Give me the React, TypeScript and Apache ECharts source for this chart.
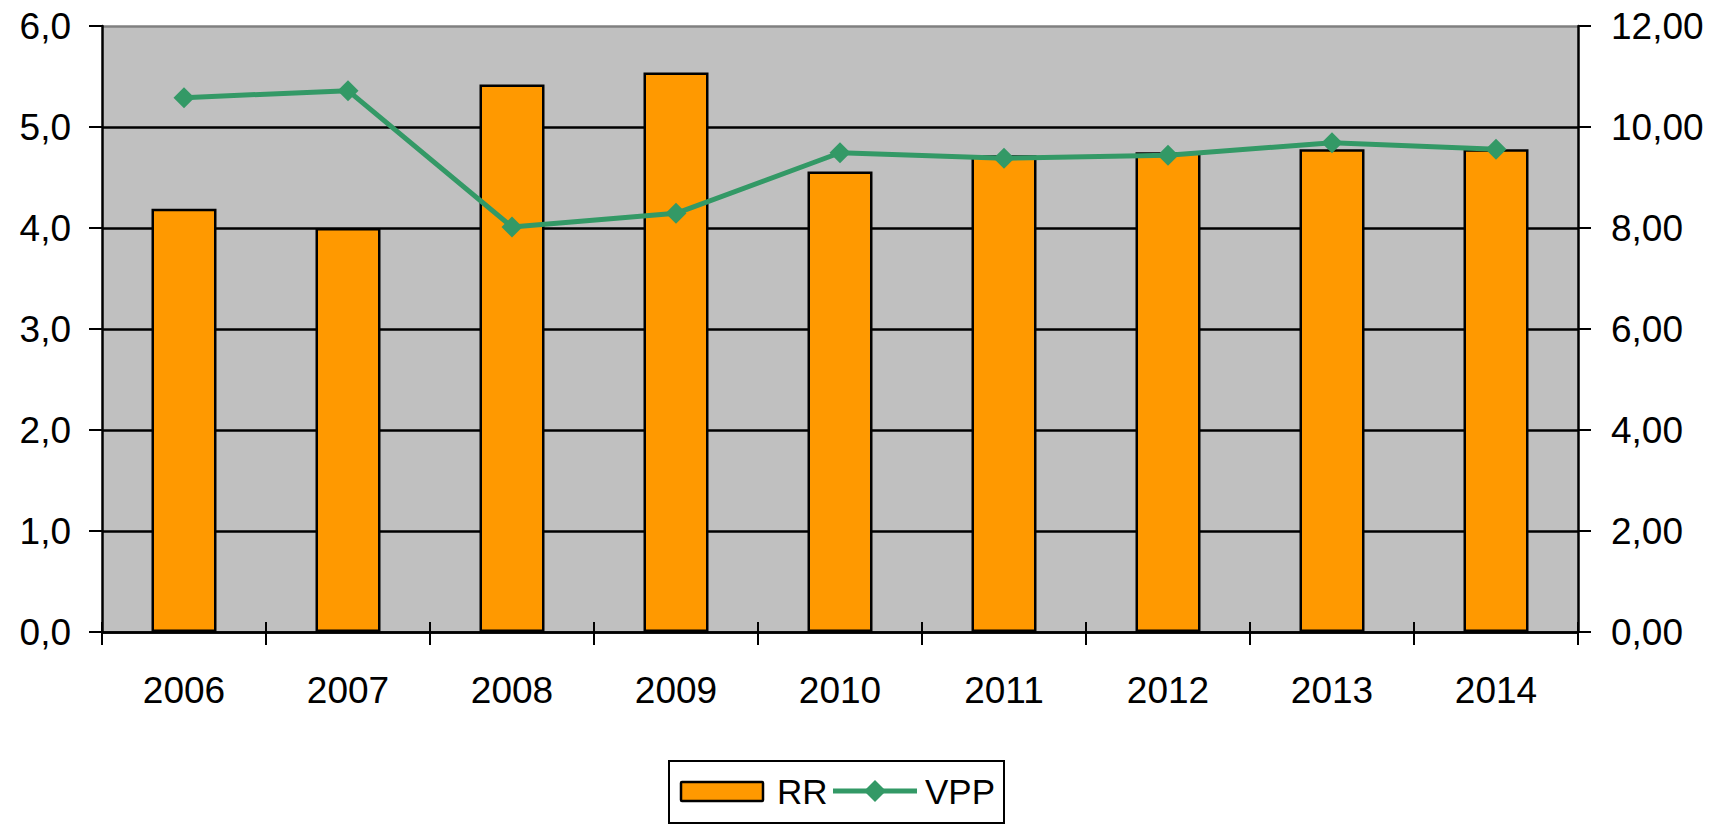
import React, { useEffect, useRef } from "react";
import * as echarts from "echarts";

const years = ["2006", "2007", "2008", "2009", "2010", "2011", "2012", "2013", "2014"];
const rrValues = [4.19, 4.0, 5.42, 5.54, 4.56, 4.72, 4.75, 4.78, 4.78];
const vppValues = [10.58, 10.72, 8.02, 8.29, 9.49, 9.38, 9.44, 9.69, 9.56];
const seriesNames = ["RR", "VPP"];

const FONT = "'Liberation Sans', Arial, sans-serif";
const BAR_COLOR = "#FF9900";
const LINE_COLOR = "#339966";

export default function App() {
  const ref = useRef<HTMLDivElement>(null);
  useEffect(() => {
    if (!ref.current) return;
    const chart = echarts.init(ref.current, undefined, { renderer: "svg" });
    const legendCy = 791;
    chart.setOption({
      animation: false,
      backgroundColor: "#ffffff",
      textStyle: { fontFamily: FONT },
      grid: {
        left: 102,
        right: 149,
        top: 26,
        bottom: 193,
        show: true,
        backgroundColor: "#C0C0C0",
        borderWidth: 0,
      },
      legend: { show: false },
      graphic: [
        {
          type: "rect",
          shape: { x: 669, y: 761, width: 335, height: 62 },
          style: { fill: "#fff", stroke: "#000", lineWidth: 2 },
          silent: true,
        },
        {
          type: "rect",
          shape: { x: 681, y: 782, width: 82, height: 19, r: 1 },
          style: { fill: BAR_COLOR, stroke: "#000", lineWidth: 2.5 },
          silent: true,
        },
        {
          type: "text",
          x: 777,
          y: legendCy,
          style: {
            text: seriesNames[0],
            fontSize: 35,
            fontFamily: FONT,
            fill: "#000",
            verticalAlign: "middle",
            align: "left",
          },
          silent: true,
        },
        {
          type: "line",
          shape: { x1: 833, y1: legendCy, x2: 917, y2: legendCy },
          style: { stroke: LINE_COLOR, lineWidth: 5 },
          silent: true,
        },
        {
          type: "polygon",
          shape: {
            points: [
              [875, legendCy - 11],
              [886, legendCy],
              [875, legendCy + 11],
              [864, legendCy],
            ],
          },
          style: { fill: LINE_COLOR },
          silent: true,
        },
        {
          type: "text",
          x: 925,
          y: legendCy,
          style: {
            text: seriesNames[1],
            fontSize: 35,
            fontFamily: FONT,
            fill: "#000",
            verticalAlign: "middle",
            align: "left",
          },
          silent: true,
        },
      ],
      xAxis: [
        {
          type: "category",
          data: years,
          position: "bottom",
          boundaryGap: true,
          axisLine: { show: true, lineStyle: { color: "#000", width: 2.5 } },
          axisTick: { show: true, interval: 0, length: 13, inside: false, lineStyle: { color: "#000", width: 2 } },
          axisLabel: { interval: 0, fontSize: 37, color: "#000", margin: 40, fontFamily: FONT },
          splitLine: { show: false },
        },
        {
          type: "category",
          data: years,
          position: "bottom",
          boundaryGap: true,
          axisLine: { show: false },
          axisTick: { show: true, interval: 0, length: 10, inside: true, lineStyle: { color: "#000", width: 2 } },
          axisLabel: { show: false },
          splitLine: { show: false },
        },
      ],
      yAxis: [
        {
          type: "value",
          min: 0,
          max: 6,
          interval: 1,
          position: "left",
          axisLine: { show: true, lineStyle: { color: "#000", width: 2.5 } },
          axisTick: { show: true, length: 13, lineStyle: { color: "#000", width: 2 } },
          axisLabel: {
            fontSize: 37,
            color: "#000",
            margin: 31,
            fontFamily: FONT,
            formatter: (v: number) => v.toFixed(1).replace(".", ","),
          },
          splitLine: {
            show: true,
            lineStyle: {
              color: ["#000", "#000", "#000", "#000", "#000", "#000", "#808080"],
              width: 2.5,
            },
          },
        },
        {
          type: "value",
          min: 0,
          max: 12,
          interval: 2,
          position: "right",
          axisLine: { show: true, lineStyle: { color: "#000", width: 2.5 } },
          axisTick: { show: true, length: 13, lineStyle: { color: "#000", width: 2 } },
          axisLabel: {
            fontSize: 37,
            color: "#000",
            margin: 33,
            fontFamily: FONT,
            formatter: (v: number) => v.toFixed(2).replace(".", ","),
          },
          splitLine: { show: false },
        },
      ],
      series: [
        {
          name: seriesNames[0],
          type: "bar",
          xAxisIndex: 0,
          yAxisIndex: 0,
          data: rrValues,
          barWidth: 65,
          itemStyle: { color: BAR_COLOR, borderColor: "#000", borderWidth: 2.5 },
        },
        {
          name: seriesNames[1],
          type: "line",
          xAxisIndex: 0,
          yAxisIndex: 1,
          data: vppValues,
          symbol: "diamond",
          symbolSize: 21,
          lineStyle: { color: LINE_COLOR, width: 5 },
          itemStyle: { color: LINE_COLOR },
        },
      ],
    });
    return () => chart.dispose();
  }, []);
  return (
    <div
      ref={ref}
      style={{ position: "absolute", left: 0, top: 0, width: 1727, height: 825 }}
    />
  );
}
